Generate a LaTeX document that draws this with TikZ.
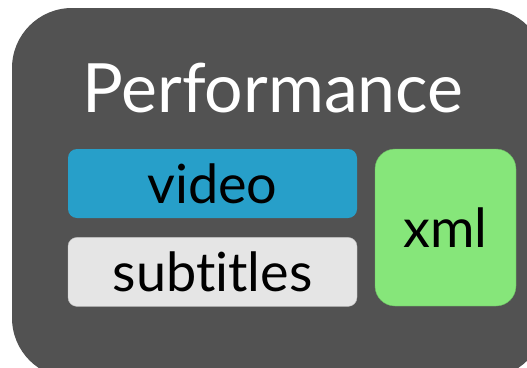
\documentclass[tikz,border=0pt]{standalone}
\usepackage{fontspec}
\setmainfont{Lato}[Ligatures={NoCommon}]
\usetikzlibrary{positioning}
\definecolor{perfgray}{HTML}{525252}
\definecolor{videoblue}{HTML}{279FC9}
\definecolor{subgray}{HTML}{E5E5E5}
\definecolor{xmlgreen}{HTML}{86E67A}
\tikzset{
     part/.style={rounded corners=9pt,minimum width=289pt,minimum height=69pt,inner sep=0pt,
        font=\fontsize{54}{54}\selectfont,text=black},
     xmlpart/.style={rounded corners=20pt,minimum width=141pt,minimum height=157pt,inner sep=0pt,
        font=\fontsize{54}{54}\selectfont,text=black}
     }

\begin{document}
\begin{tikzpicture}[x=1pt,y=-1pt]
            \useasboundingbox (0,0) rectangle (527,367);
            \clip (0,0) rectangle (527,367);
            % Outer box
            \fill[perfgray,rounded corners=60pt] (12,8) rectangle (545,378);
            \node[text=white,font=\fontsize{68}{68}\selectfont,anchor=base] (title) at (273,112) {Performance};
            % Parts
            \node[part,fill=videoblue] (video) at (212.5,183.5) {video};
            \node[part,fill=subgray,draw=black!25,below=19pt of video] (subtitles) {subtitles};
            \node[xmlpart,fill=xmlgreen,draw=xmlgreen!80!black] (xml) at (445.5,227.5) {xml};
        \end{tikzpicture}
\end{document}
